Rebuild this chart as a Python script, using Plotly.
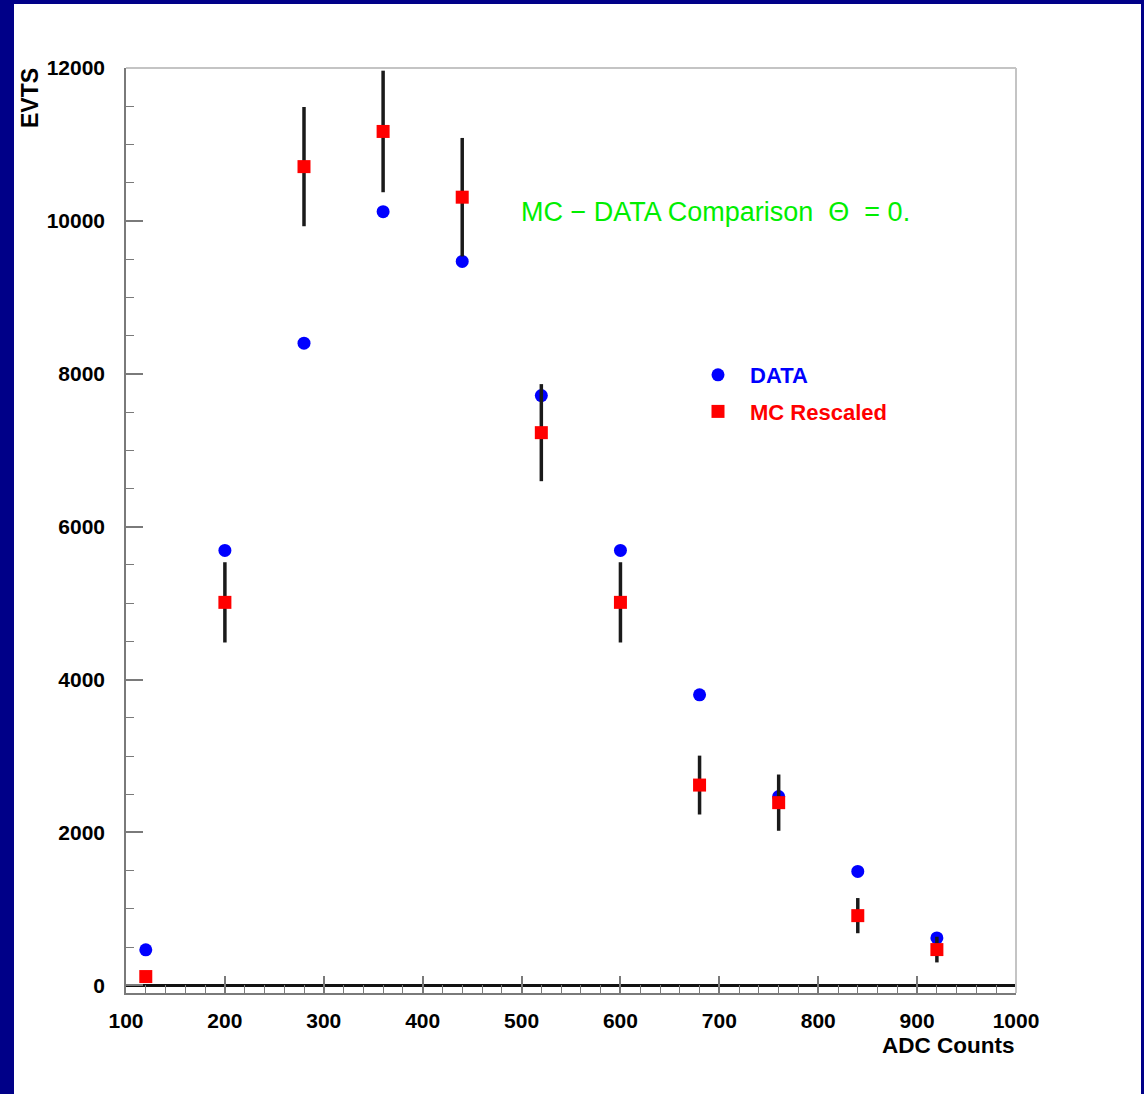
import plotly.graph_objects as go

# ---- data ----
adc = [120, 200, 280, 360, 440, 520, 600, 680, 760, 840, 920]
data_evts = [465, 5690, 8400, 10120, 9470, 7715, 5690, 3800, 2470, 1490, 620]
mc_evts = [115, 5010, 10710, 11170, 10310, 7230, 5010, 2620, 2390, 912, 468]
mc_err = [60, 525, 780, 795, 775, 635, 525, 385, 368, 230, 168]

x_ticks = [100, 200, 300, 400, 500, 600, 700, 800, 900, 1000]
y_ticks = [0, 2000, 4000, 6000, 8000, 10000, 12000]

NAVY = "#000088"
FONT = "Liberation Sans, Arial, sans-serif"

W, H = 1144, 1094
L, R, T, B = 126, 128, 68, 101
PW, PH = W - L - R, H - T - B


def px_x(p):
    return (p - L) / PW


def px_y(p):
    return (H - B - p) / PH


fig = go.Figure()

fig.add_trace(go.Scatter(
    x=adc, y=data_evts, mode="markers",
    name="<b><span style='color:#0000ff'>DATA</span></b>",
    marker=dict(symbol="circle", size=13, color="#0000ff"),
    legendgroup="a",
))
fig.add_trace(go.Scatter(
    x=adc, y=mc_evts, mode="markers",
    name="<b><span style='color:#ff0000'>MC Rescaled</span></b>",
    marker=dict(symbol="square", size=13, color="#ff0000"),
    error_y=dict(type="data", array=mc_err, visible=True,
                 color="#1a1a1a", thickness=3.5, width=0),
    legendgroup="b",
))

tickfont = dict(family=FONT, size=21, color="black", weight="bold")

fig.update_layout(
    width=W, height=H,
    margin=dict(l=L, r=R, t=T, b=B, pad=0),
    paper_bgcolor=NAVY,
    plot_bgcolor="white",
    font=dict(family=FONT, color="black"),
    showlegend=True,
    legend=dict(
        x=px_x(686), y=px_y(354), xanchor="left", yanchor="top",
        bgcolor="rgba(0,0,0,0)", borderwidth=0,
        font=dict(family=FONT, size=22),
        itemwidth=54, tracegroupgap=5,
    ),
    xaxis=dict(
        range=[100, 1000], showgrid=False, zeroline=False,
        showline=True, linecolor="#7a7a7a", linewidth=1.5, mirror=False,
        tickvals=x_ticks, ticktext=[str(v) for v in x_ticks],
        ticks="inside", ticklen=17, tickwidth=1.5, tickcolor="#7a7a7a",
        minor=dict(dtick=20, tick0=100, ticks="inside", ticklen=8,
                   tickwidth=1.2, tickcolor="#7a7a7a", showgrid=False),
        tickfont=tickfont,
        ticklabelstandoff=8,
    ),
    yaxis=dict(
        range=[-100, 12000], showgrid=False,
        zeroline=True, zerolinecolor="#111111", zerolinewidth=3,
        showline=True, linecolor="#7a7a7a", linewidth=1.5, mirror=False,
        tickvals=y_ticks, ticktext=[str(v) for v in y_ticks],
        ticks="inside", ticklen=17, tickwidth=1.5, tickcolor="#7a7a7a",
        minor=dict(dtick=500, tick0=0, ticks="inside", ticklen=8,
                   tickwidth=1.2, tickcolor="#7a7a7a", showgrid=False),
        tickfont=tickfont,
        ticklabelstandoff=15,
    ),
    shapes=[
        # white page inside the navy frame
        dict(type="rect", xref="paper", yref="paper",
             x0=px_x(14), x1=px_x(1141), y0=px_y(1100), y1=px_y(4),
             fillcolor="white", line=dict(width=0), layer="below"),
        # light top / right frame lines
        dict(type="line", xref="paper", yref="paper", x0=0, x1=1, y0=1, y1=1,
             line=dict(color="#c4c4c4", width=2)),
        dict(type="line", xref="paper", yref="paper", x0=1, x1=1, y0=0, y1=1,
             line=dict(color="#c4c4c4", width=2)),
    ],
    annotations=[
        dict(text="MC \u2212 DATA Comparison  \u0398  = 0.", x=497, y=10120,
             xref="x", yref="y", xanchor="left", yanchor="middle",
             showarrow=False, font=dict(family=FONT, size=27, color="#00ee00")),
        dict(text="<b>EVTS</b>", textangle=-90, xref="paper", yref="paper",
             x=px_x(30), y=px_y(66), xanchor="center", yanchor="top",
             showarrow=False, font=dict(family=FONT, size=23, color="black")),
        dict(text="<b>ADC Counts</b>", xref="paper", yref="paper",
             x=px_x(1016), y=px_y(1045), xanchor="right", yanchor="middle",
             showarrow=False, font=dict(family=FONT, size=22.5, color="black")),
    ],
)

fig.write_html("out.html")
